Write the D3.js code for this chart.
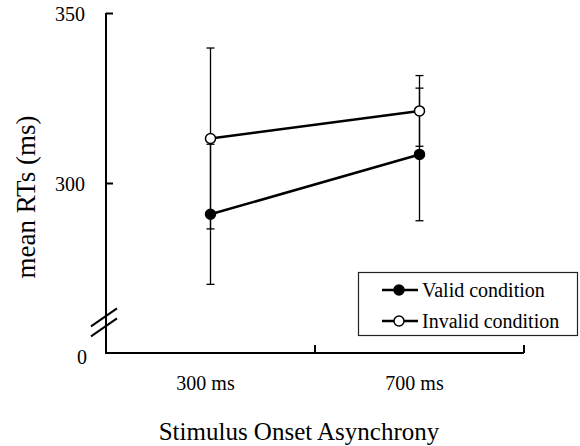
<!DOCTYPE html>
<meta charset="utf-8">
<script src="https://d3js.org/d3.v7.min.js"></script>
<style>
  body { margin: 0; background: #fff; }
  svg text { font-family: "Liberation Serif", "DejaVu Serif", serif; fill: #000; }
</style>
<div id="chart"></div>
<script>
// data
const soa = ["300 ms", "700 ms"];
const validMean = [290.8, 308.4];
const validErr = [20.6, 19.5];
const invalidMean = [313.1, 321.2];
const invalidErr = [26.6, 10.4];
const yTickValues = [250, 300, 350];
const yTickLabels = ["0", "300", "350"];   // axis is broken below 300
const seriesNames = ["Valid condition", "Invalid condition"];

const width = 580, height = 446;
const serif = "'Liberation Serif', 'DejaVu Serif', serif";
const svg = d3.select("#chart").append("svg")
    .attr("width", width)
    .attr("height", height)
    .attr("font-family", serif);

const x = d3.scaleBand().domain(soa).range([106, 524]);
const y = d3.scaleLinear().domain([250, 350]).range([353, 13]);

// y axis
const yAxis = svg.append("g")
    .attr("transform", "translate(106,0)")
    .call(d3.axisRight(y).tickValues(yTickValues).tickSize(7)
        .tickFormat(""));
yAxis.select(".domain").attr("stroke-width", 2).attr("d", "M0," + y(350) + "V" + y(250));
yAxis.selectAll(".tick line").attr("stroke-width", 2)
    .attr("display", d => d === 250 ? "none" : null);

svg.append("g").selectAll("text")
    .data(yTickValues)
    .join("text")
    .attr("font-family", serif)
    .attr("x", d => d === 250 ? 87 : 85)
    .attr("y", d => y(d) + (d === 250 ? 5 : 2))
    .attr("dy", "0.32em")
    .attr("text-anchor", "end")
    .attr("font-size", 20)
    .text((d, i) => yTickLabels[i]);

// axis break marks
const breakY = y(259);
[-5, 5].forEach(off => {
  svg.append("line")
      .attr("x1", 91).attr("y1", breakY + off + 9)
      .attr("x2", 117).attr("y2", breakY + off - 9)
      .attr("stroke", "#000").attr("stroke-width", 2);
});

// x axis, ticks on category boundaries
const bounds = [x.range()[0] + x.step(), x.range()[1]];
const xg = svg.append("g").attr("transform", "translate(0," + y(250) + ")");
xg.append("path")
    .attr("d", "M" + (x.range()[0] - 1) + ",0H" + x.range()[1])
    .attr("stroke", "#000").attr("stroke-width", 2).attr("fill", "none");
xg.selectAll("line")
    .data(bounds)
    .join("line")
    .attr("x1", d => d).attr("x2", d => d)
    .attr("y1", 0).attr("y2", -8)
    .attr("stroke", "#000").attr("stroke-width", 2);
xg.selectAll("text")
    .data(soa)
    .join("text")
    .attr("font-family", serif)
    .attr("x", d => x(d) + x.bandwidth() / 2 - 5)
    .attr("y", 37)
    .attr("text-anchor", "middle")
    .attr("font-size", 20)
    .text(d => d);

// axis titles
svg.append("text")
    .attr("font-family", serif)
    .attr("x", 299).attr("y", 440)
    .attr("text-anchor", "middle")
    .attr("font-size", 25)
    .text("Stimulus Onset Asynchrony");
svg.append("text")
    .attr("font-family", serif)
    .attr("transform", "translate(35,197) rotate(-90)")
    .attr("text-anchor", "middle")
    .attr("font-size", 27)
    .text("mean RTs (ms)");

const cx = d => x(d) + x.bandwidth() / 2;

const series = [
  {name: seriesNames[0], mean: validMean, err: validErr, fill: "#000"},
  {name: seriesNames[1], mean: invalidMean, err: invalidErr, fill: "#fff"}
];

// error bars
series.forEach(s => {
  const g = svg.append("g").attr("stroke", "#000").attr("stroke-width", 1.3);
  soa.forEach((c, i) => {
    const lo = y(s.mean[i] - s.err[i]), hi = y(s.mean[i] + s.err[i]);
    g.append("line").attr("x1", cx(c)).attr("x2", cx(c)).attr("y1", lo).attr("y2", hi);
    g.append("line").attr("x1", cx(c) - 4).attr("x2", cx(c) + 4).attr("y1", lo).attr("y2", lo);
    g.append("line").attr("x1", cx(c) - 4).attr("x2", cx(c) + 4).attr("y1", hi).attr("y2", hi);
  });
});

// lines and markers
const line = d3.line().x((d, i) => cx(soa[i])).y(d => y(d));
series.forEach(s => {
  svg.append("path")
      .attr("d", line(s.mean))
      .attr("fill", "none").attr("stroke", "#000").attr("stroke-width", 2.5);
});
series.forEach(s => {
  svg.append("g").selectAll("circle")
      .data(s.mean)
      .join("circle")
      .attr("cx", (d, i) => cx(soa[i]))
      .attr("cy", d => y(d))
      .attr("r", 5)
      .attr("fill", s.fill)
      .attr("stroke", "#000").attr("stroke-width", 1.5);
});

// legend
const legend = svg.append("g");
legend.append("rect")
    .attr("x", 358.5).attr("y", 272.5).attr("width", 219).attr("height", 63)
    .attr("fill", "#fff").attr("stroke", "#222").attr("stroke-width", 1.2);
series.forEach((s, i) => {
  const ly = 290 + i * 31;
  legend.append("line").attr("x1", 382).attr("x2", 418).attr("y1", ly).attr("y2", ly)
      .attr("stroke", "#000").attr("stroke-width", 2.5);
  legend.append("circle").attr("cx", 399).attr("cy", ly).attr("r", 5)
      .attr("fill", s.fill).attr("stroke", "#000").attr("stroke-width", 1.5);
  legend.append("text").attr("font-family", serif)
      .attr("x", 422).attr("y", ly).attr("dy", "0.33em")
      .attr("font-size", 20).text(s.name);
});
</script>
